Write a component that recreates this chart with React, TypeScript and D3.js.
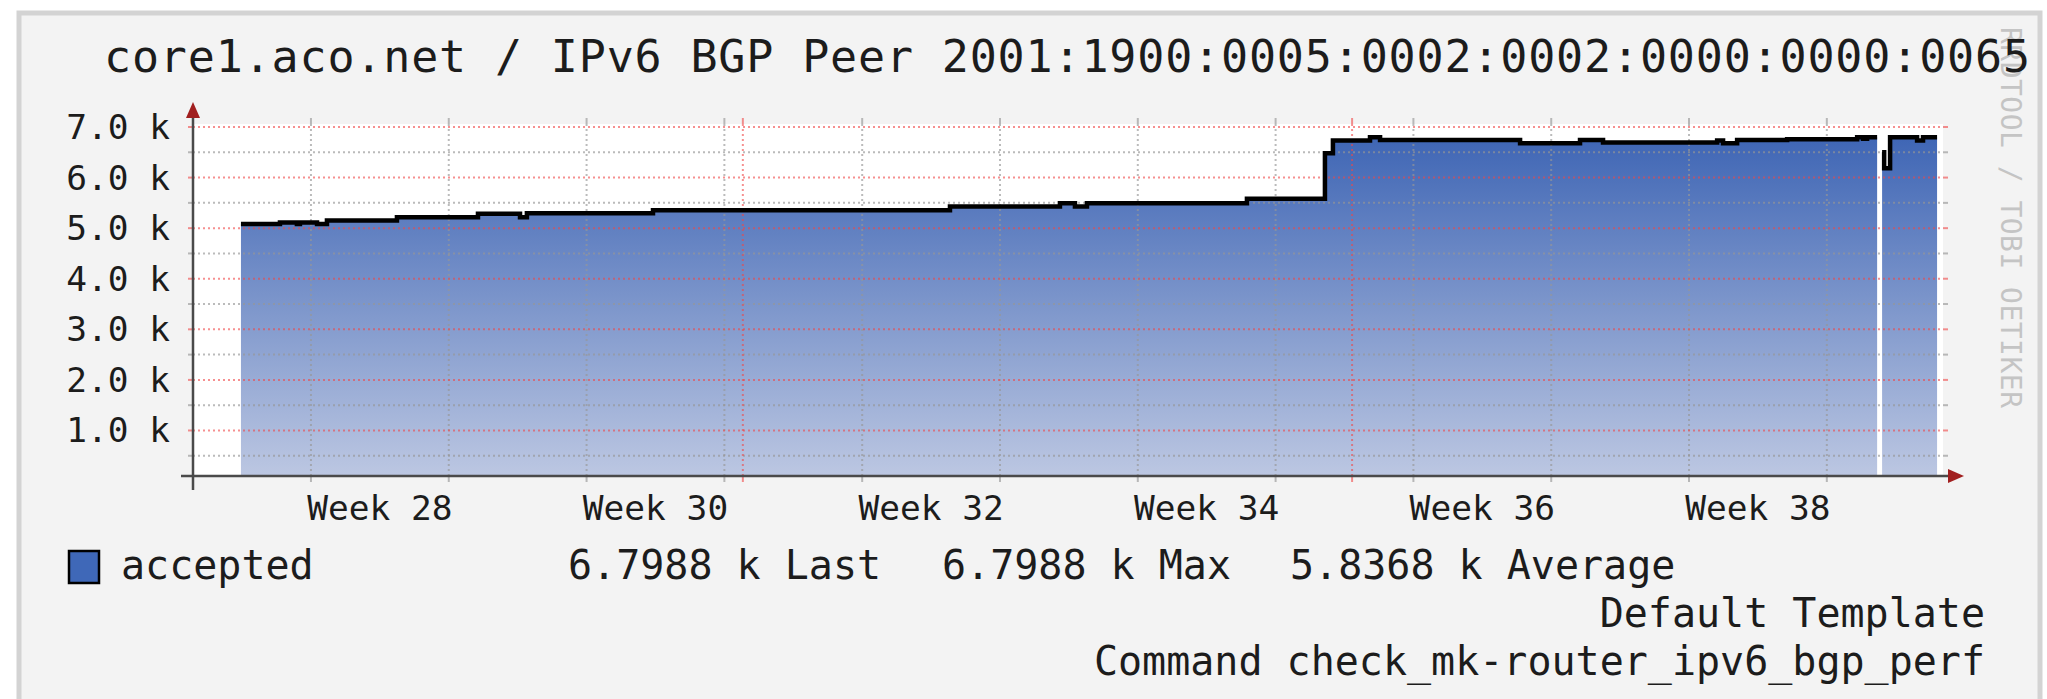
import React from "react";
import * as d3 from "d3";

const W = 2047;
const H = 699;

const title = "core1.aco.net / IPv6 BGP Peer 2001:1900:0005:0002:0002:0000:0000:0065";
const watermark = "RRDTOOL / TOBI OETIKER";

// start of each step (fractional ISO week) and the value held until the next step
const stepWeeks = [
  27.492, 27.775, 27.898, 27.92, 28.044, 28.116, 28.624, 29.212, 29.517, 29.567,
  30.482, 32.637, 33.435, 33.544, 33.631, 34.792, 35.358, 35.416, 35.685, 35.758,
  36.774, 37.209, 37.376, 38.204, 38.247, 38.349, 38.712, 39.22, 39.263, 39.292,
  39.365, 39.401, 39.416, 39.459, 39.655, 39.698,
];
const acceptedValues = [
  5080, 5110, 5080, 5110, 5080, 5150, 5217, 5283, 5217, 5295,
  5355, 5427, 5494, 5427, 5494, 5580, 6482, 6731, 6795, 6745,
  6680, 6745, 6692, 6731, 6680, 6745, 6760, 6798, 6770, 6798,
  NaN, 6500, 6186, 6798.8, 6731, 6798.8,
];
const dataEndWeek = 39.8;

const majorTicks = [1000, 2000, 3000, 4000, 5000, 6000, 7000];
const minorTicks = [500, 1500, 2500, 3500, 4500, 5500, 6500];
const weekGrid = [28, 29, 30, 31, 32, 33, 34, 35, 36, 37, 38, 39];
const weekLabels = [28, 30, 32, 34, 36, 38];
const monthGrid = [31.134, 35.555];

const legendName = "accepted";
const legendStats = ["6.7988 k Last", "6.7988 k Max", "5.8368 k Average"];
const footer = ["Default Template", "Command check_mk-router_ipv6_bgp_perf"];

const mono = "'DejaVu Sans Mono', monospace";
const ink = "#1c1c1c";
const plot = { left: 193, right: 1943, top: 124, bottom: 476 };
const gridGray = "rgba(150,150,150,0.65)";
const gridRed = "rgba(240,70,70,0.6)";

export default function App() {
  const x = d3.scaleLinear().domain([27.144, 39.843]).range([plot.left, plot.right]);
  const y = d3.scaleLinear().domain([100, 7000]).range([plot.bottom, 127]);

  const pts: [number, number][] = [];
  stepWeeks.forEach((w, i) => {
    const end = i < stepWeeks.length - 1 ? stepWeeks[i + 1] : dataEndWeek;
    pts.push([w, acceptedValues[i]], [end, acceptedValues[i]]);
  });

  const area = d3
    .area<[number, number]>()
    .defined((d) => !isNaN(d[1]))
    .x((d) => x(d[0]))
    .y0(plot.bottom)
    .y1((d) => y(d[1]));
  const line = d3
    .line<[number, number]>()
    .defined((d) => !isNaN(d[1]))
    .x((d) => x(d[0]))
    .y((d) => y(d[1]));

  const hLine = (v: number, color: string, key: string) => (
    <g key={key}>
      <line x1={plot.left} x2={plot.right} y1={y(v)} y2={y(v)} stroke={color} strokeWidth={2} strokeDasharray="2 3" />
      <line x1={plot.left - 5} x2={plot.left} y1={y(v)} y2={y(v)} stroke={color} strokeWidth={2} />
      <line x1={plot.right} x2={plot.right + 5} y1={y(v)} y2={y(v)} stroke={color} strokeWidth={2} />
    </g>
  );
  const vLine = (w: number, color: string, key: string) => (
    <g key={key}>
      <line x1={x(w)} x2={x(w)} y1={plot.top} y2={plot.bottom} stroke={color} strokeWidth={2} strokeDasharray="2 3" />
      <line x1={x(w)} x2={x(w)} y1={plot.top - 6} y2={plot.top} stroke={color} strokeWidth={2} />
      <line x1={x(w)} x2={x(w)} y1={plot.bottom} y2={plot.bottom + 6} stroke={color} strokeWidth={2} />
    </g>
  );

  return (
    <svg width={W} height={H} style={{ position: "absolute", left: 0, top: 0, background: "#fff" }}>
      <defs>
        <linearGradient id="fillGrad" gradientUnits="userSpaceOnUse" x1={0} y1={plot.top} x2={0} y2={plot.bottom}>
          <stop offset="0%" stopColor="#3a62b3" />
          <stop offset="100%" stopColor="#bcc7e2" />
        </linearGradient>
      </defs>

      <rect x={19} y={13} width={2021} height={720} fill="#f3f3f3" stroke="#d3d3d3" strokeWidth={5} />

      <text
        transform="translate(2001,27) rotate(90)"
        fontFamily={mono}
        fontSize={28}
        fill="#c4c4c4"
        textLength={381}
        lengthAdjust="spacing"
      >
        {watermark}
      </text>
      <text x={104} y={72} fontFamily={mono} fontSize={45} fill={ink} textLength={1926} lengthAdjust="spacing">
        {title}
      </text>

      <rect x={plot.left} y={plot.top} width={plot.right - plot.left} height={plot.bottom - plot.top} fill="#fff" />

      <path d={area(pts) || ""} fill="url(#fillGrad)" />

      {minorTicks.map((v) => hLine(v, gridGray, `mi${v}`))}
      {weekGrid.map((w) => vLine(w, gridGray, `w${w}`))}
      {majorTicks.map((v) => hLine(v, gridRed, `ma${v}`))}
      {monthGrid.map((w) => vLine(w, gridRed, `m${w}`))}

      <path d={line(pts) || ""} fill="none" stroke="#000" strokeWidth={4.5} strokeLinejoin="miter" />

      <line x1={plot.left} x2={plot.left} y1={110} y2={490} stroke="#4a4a4a" strokeWidth={2.5} />
      <line x1={181} x2={1952} y1={plot.bottom} y2={plot.bottom} stroke="#4a4a4a" strokeWidth={2.5} />
      <polygon points={`${plot.left},102 ${plot.left - 7},118 ${plot.left + 7},118`} fill="#a11f1f" />
      <polygon points={`1964,${plot.bottom} 1948,${plot.bottom - 7} 1948,${plot.bottom + 7}`} fill="#a11f1f" />

      {majorTicks.map((v) => (
        <text key={`yl${v}`} x={170} y={y(v) + 12} textAnchor="end" fontFamily={mono} fontSize={34.5} fill={ink}>
          {`${d3.format(".1f")(v / 1000)} k`}
        </text>
      ))}
      {weekLabels.map((w) => (
        <text key={`xl${w}`} x={x(w + 0.5)} y={520} textAnchor="middle" fontFamily={mono} fontSize={34.5} fill={ink}>
          {`Week ${w}`}
        </text>
      ))}

      <rect x={69} y={551} width={30} height={32} fill="#3f68b8" stroke="#000" strokeWidth={2.5} />
      <text x={121} y={579} fontFamily={mono} fontSize={40} fill={ink}>
        {legendName}
      </text>
      {legendStats.map((s, i) => (
        <text key={s} x={[568, 942, 1290][i]} y={579} fontFamily={mono} fontSize={40} fill={ink}>
          {s}
        </text>
      ))}
      {footer.map((s, i) => (
        <text key={s} x={1985} y={627 + i * 48} textAnchor="end" fontFamily={mono} fontSize={40} fill={ink}>
          {s}
        </text>
      ))}
    </svg>
  );
}
